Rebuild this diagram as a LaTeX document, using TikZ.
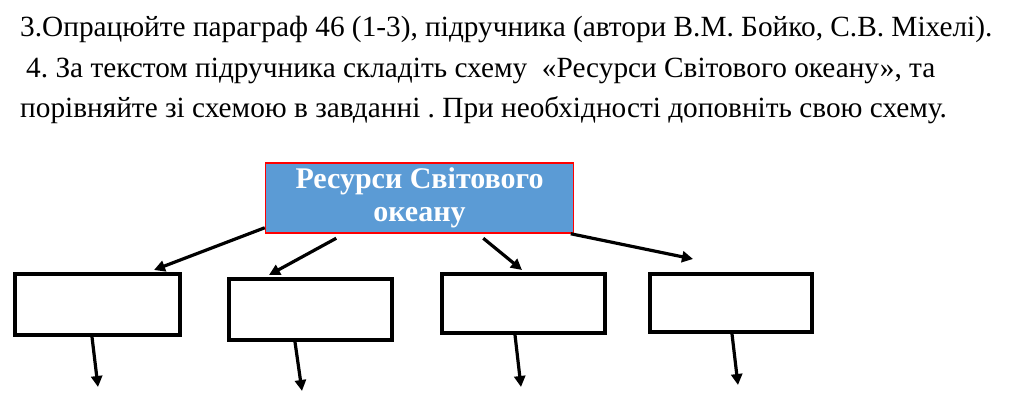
\documentclass[tikz,border=0pt]{standalone}
\usepackage{fontspec}
\setmainfont{Liberation Serif}
\usetikzlibrary{arrows.meta}
\definecolor{oceanblue}{RGB}{91,155,213}
\frenchspacing

\begin{document}
\begin{tikzpicture}[x=1pt,y=-1pt]
\tikzset{task/.style = {anchor=base west,inner sep=0pt,font=\fontsize{29.3}{36}\selectfont}}
\tikzset{head/.style = {shape=rectangle,draw=red,line width=1.5pt,fill=oceanblue,text=white,
  font=\fontsize{30}{33}\selectfont\bfseries,align=center,minimum width=308pt,minimum height=70pt,inner sep=0pt}}
\tikzset{box/.style = {shape=rectangle,draw,line width=4pt,inner sep=0pt}}
\tikzset{edge/.style = {line width=3.2pt,-{Triangle[length=11pt,width=11pt]}}}
\useasboundingbox (0,0) rectangle (1024,403);

\node[task] (t1) at (20,37) {3.Опрацюйте параграф 46 (1-3), підручника (автори В.М. Бойко, С.В. Міхелі).};
\node[task] (t2) at (26,78) {4. За текстом підручника складіть схему \ «Ресурси Світового океану», та};
\node[task] (t3) at (20,118) {порівняйте зі схемою в завданні . При необхідності доповніть свою схему.};

\node[head] (top) at (419.5,198) {Ресурси Світового\\океану};

\node[box,minimum width=165pt,minimum height=61pt] (b1) at (97.5,304.5) {};
\node[box,minimum width=163pt,minimum height=61pt] (b2) at (310.5,309.5) {};
\node[box,minimum width=163pt,minimum height=59pt] (b3) at (523.5,303.5) {};
\node[box,minimum width=162pt,minimum height=58pt] (b4) at (731,303) {};

\coordinate (r4) at ([xshift=45pt,yshift=13pt]b4.north west);

\draw[edge] ([yshift=6pt]top.south west) -- ([xshift=141pt,yshift=2pt]b1.north west);
\draw[edge] ([xshift=71.5pt,yshift=-4.5pt]top.south west) -- ([xshift=42pt,yshift=2pt]b2.north west);
\draw[edge] ([xshift=218.5pt,yshift=-4.5pt]top.south west) -- ([xshift=-1.5pt,yshift=2pt]b3.north);
\draw[edge] ([xshift=-3.5pt]top.south east) -- (r4);

\coordinate (d1) at ([xshift=0.5pt,yshift=-50pt]b1.south);
\coordinate (d2) at ([xshift=-8.5pt,yshift=-49pt]b2.south);
\coordinate (d3) at ([xshift=-2.5pt,yshift=-52pt]b3.south);
\coordinate (d4) at ([xshift=7pt,yshift=-51pt]b4.south);

\draw[edge] ([xshift=-5.5pt]b1.south) -- (d1);
\draw[edge] ([xshift=-15.5pt]b2.south) -- (d2);
\draw[edge] ([xshift=-8.5pt]b3.south) -- (d3);
\draw[edge] ([xshift=1pt]b4.south) -- (d4);

\end{tikzpicture}
\end{document}
